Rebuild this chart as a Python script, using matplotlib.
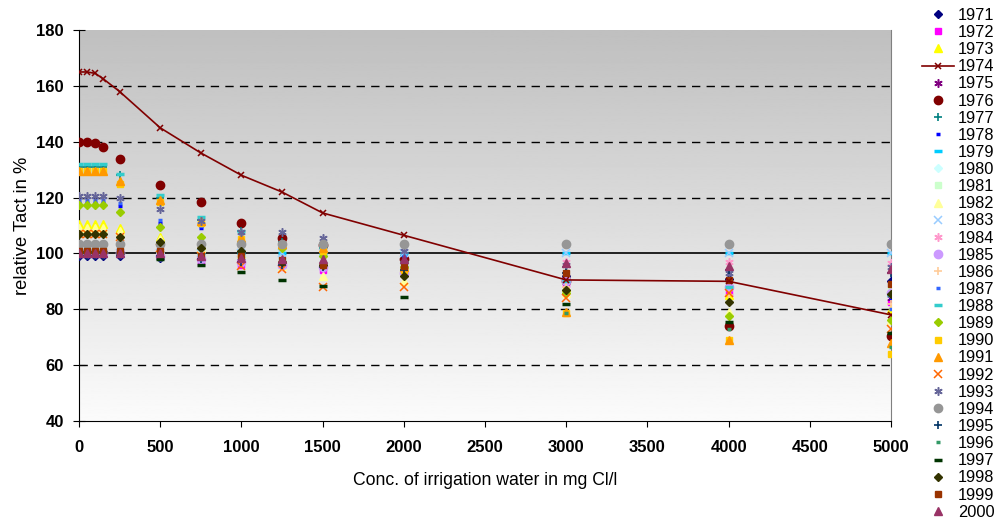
import numpy as np
import matplotlib
matplotlib.use("Agg")
import matplotlib.pyplot as plt

plt.rcParams['font.family'] = ['Liberation Sans', 'DejaVu Sans']

conc = [0, 50, 100, 150, 250, 500, 750, 1000, 1250, 1500, 2000, 3000, 4000, 5000]

years = [str(y) for y in range(1971, 2001)]

v1971 = [99, 99, 99, 99, 99, 98.5, 98, 97.5, 97, 96, 95, 92, 91, 90]
v1972 = [100, 100, 100, 100, 100, 99, 97, 96, 95, 94, 93, 89, 86, 82.5]
v1973 = [110.5, 110.5, 110.5, 110.5, 109, 106, 103, 100, 98, 97, 95, 88, 85, 80]
v1974 = [165, 165, 164.5, 162.5, 158, 145, 136, 128, 122, 114.5, 106.5, 90.5, 90, 78]
v1975 = [100, 100, 100, 100, 100, 99, 98, 97, 96, 95, 94, 91, 88, 84]
v1976 = [140, 140, 139.5, 138, 134, 124.5, 118.5, 111, 105.5, 103, 98, 90, 74, 70.5]
v1977 = [131, 131, 131, 131, 128, 120, 112, 108, 104, 102, 99, 95, 90, 85]
v1978 = [118, 118, 118, 118, 117, 111, 109, 106, 103, 101, 99, 96, 93, 84]
v1979 = [100, 100, 100, 100, 100, 100, 100, 100, 100, 100, 100, 100, 100, 100]
v1980 = [100, 100, 100, 100, 100, 100, 99, 99, 98, 97, 96, 90, 88, 86]
v1981 = [101, 101, 101, 101, 101, 100, 99, 98, 97, 96, 94, 91, 89, 87]
v1982 = [109, 109, 109, 109, 108, 105, 102, 98, 95.5, 92, 90, 86, 79, 76]
v1983 = [100, 100, 100, 100, 100, 100, 100, 100, 100, 100, 100, 100, 100, 100]
v1984 = [100, 100, 100, 100, 100, 99, 98, 97, 96, 95, 94, 97, 97, 96.5]
v1985 = [100, 100, 100, 100, 100, 99, 98, 97, 96, 95, 93, 90, 88, 86]
v1986 = [107, 107, 107, 107, 106, 104, 102, 99, 97, 95, 92, 88, 85, 82]
v1987 = [119, 119, 119, 119, 118, 112, 110, 107, 104, 102, 99, 96, 93, 80]
v1988 = [132, 132, 132, 132, 128.5, 121, 113, 108, 103.5, 102.5, 97, 90, 88, 85]
v1989 = [117.5, 117.5, 117.5, 117.5, 115, 109.5, 106, 104, 102, 99, 95, 86, 77.5, 76]
v1990 = [129.5, 129.5, 129.5, 129.5, 125, 118.5, 111, 105, 103, 101, 94, 78.5, 69, 64]
v1991 = [129.5, 129.5, 129.5, 129.5, 126, 119, 111.5, 105.5, 103.5, 102, 95, 79, 69, 68]
v1992 = [107, 107, 107, 107, 106, 102, 99, 95.5, 94.5, 88, 88, 84, 86, 73]
v1993 = [120.5, 120.5, 120.5, 120.5, 120, 116, 111.5, 107.5, 107.5, 105.5, 101, 96, 93, 95]
v1994 = [103.5, 103.5, 103.5, 103.5, 103.5, 103.5, 103.5, 103.5, 103.5, 103.5, 103.5, 103.5, 103.5, 103.5]
v1995 = [99, 99, 99, 99, 99, 99, 98, 97, 96, 95, 94, 93, 94, 93]
v1996 = [101, 101, 101, 101, 100, 98, 98, 98, 97, 97, 95, 78.5, 73, 66.5]
v1997 = [100.5, 100.5, 100.5, 100.5, 100, 98, 96, 93.5, 90.5, 88.5, 84.5, 82, 75.5, 71.5]
v1998 = [107, 107, 107, 107, 106, 104, 102, 101, 97, 96, 92, 87, 82.5, 85.5]
v1999 = [101, 101, 101, 101, 101, 101, 99, 99, 97.5, 96, 95.5, 93, 90.5, 89]
v2000 = [100, 100, 100, 100, 100, 100, 99, 98.5, 98, 98, 98, 96.5, 95.5, 94.5]

series = [v1971, v1972, v1973, v1974, v1975, v1976, v1977, v1978, v1979, v1980,
          v1981, v1982, v1983, v1984, v1985, v1986, v1987, v1988, v1989, v1990,
          v1991, v1992, v1993, v1994, v1995, v1996, v1997, v1998, v1999, v2000]

star = (6, 2, 0)
# (marker, colour, size, edge width) in Excel-2003 default order
styles = [
    ('D', '#000080', 4.5, 1), ('s', '#FF00FF', 5, 1), ('^', '#FFFF00', 6, 1),
    ('x', '#800000', 4, 1.1), (star, '#800080', 6, 1.1), ('o', '#800000', 6, 1),
    ('+', '#008080', 6, 1.2), ('_', '#0000FF', 3.5, 2.5), ('_', '#00CCFF', 6, 2.5),
    ('D', '#CCFFFF', 4.5, 1), ('s', '#CCFFCC', 5, 1), ('^', '#FFFF99', 6, 1),
    ('x', '#99CCFF', 6, 1.1), (star, '#FF99CC', 6, 1.1), ('o', '#CC99FF', 6, 1),
    ('+', '#FFCC99', 6, 1.2), ('_', '#3366FF', 3.5, 2.5), ('_', '#33CCCC', 6, 2.5),
    ('D', '#99CC00', 4.5, 1), ('s', '#FFCC00', 5, 1), ('^', '#FF9900', 6, 1),
    ('x', '#FF6600', 6, 1.1), (star, '#666699', 6, 1.1), ('o', '#969696', 6, 1),
    ('+', '#003366', 6, 1.2), ('_', '#339966', 3.5, 2.5), ('_', '#003300', 6, 2.5),
    ('D', '#333300', 4.5, 1), ('s', '#993300', 5, 1), ('^', '#993366', 6, 1),
]

fig = plt.figure(figsize=(10, 5.19), dpi=100)
ax = fig.add_axes([0.079, 0.189, 0.812, 0.753])

# grey gradient plot area, darker at the top
grad = np.linspace(0.75, 0.985, 256).reshape(-1, 1)
ax.imshow(grad, extent=[0, 5000, 40, 180], origin='upper', aspect='auto',
          cmap='gray', vmin=0, vmax=1, zorder=0)

for yv in [60, 80, 120, 140, 160]:
    ax.axhline(yv, color='black', lw=1, ls=(0, (6, 4.5)), zorder=1)
ax.axhline(100, color='black', lw=1.2, zorder=1)

handles = []
for name, vals, (m, c, ms, mew) in zip(years, series, styles):
    if name == '1974':
        h, = ax.plot(conc, vals, color=c, lw=1.2, marker=m, ms=ms, mew=mew,
                     zorder=4, label=name)
    else:
        h, = ax.plot(conc, vals, ls='none', marker=m, ms=ms, mew=mew,
                     color=c, markeredgecolor=c, zorder=3, label=name)
    handles.append(h)

ax.set_xlim(0, 5000)
ax.set_ylim(40, 180)
ax.set_xticks(np.arange(0, 5001, 500))
ax.set_yticks(np.arange(40, 181, 20))
ax.tick_params(axis='x', labelsize=12, length=4, direction='out', pad=10)
ax.tick_params(axis='y', labelsize=12, length=8, direction='inout', pad=7)
for lab in ax.get_xticklabels() + ax.get_yticklabels():
    lab.set_fontweight('bold')
ax.spines['top'].set_visible(False)
ax.spines['right'].set_color('#808080')
ax.spines['left'].set_color('black')
ax.spines['bottom'].set_color('black')

ax.set_xlabel('Conc. of irrigation water in mg Cl/l', fontsize=12.7, labelpad=12)
ax.set_ylabel('relative Tact in %', fontsize=13.2, labelpad=4)

fig.legend(handles=handles, loc='upper left', bbox_to_anchor=(0.92, 0.988),
           frameon=False, fontsize=11.8, labelspacing=0.13, handlelength=1.95,
           handletextpad=0.27, borderpad=0.1, borderaxespad=0)

fig.savefig('out.png', dpi=100)
